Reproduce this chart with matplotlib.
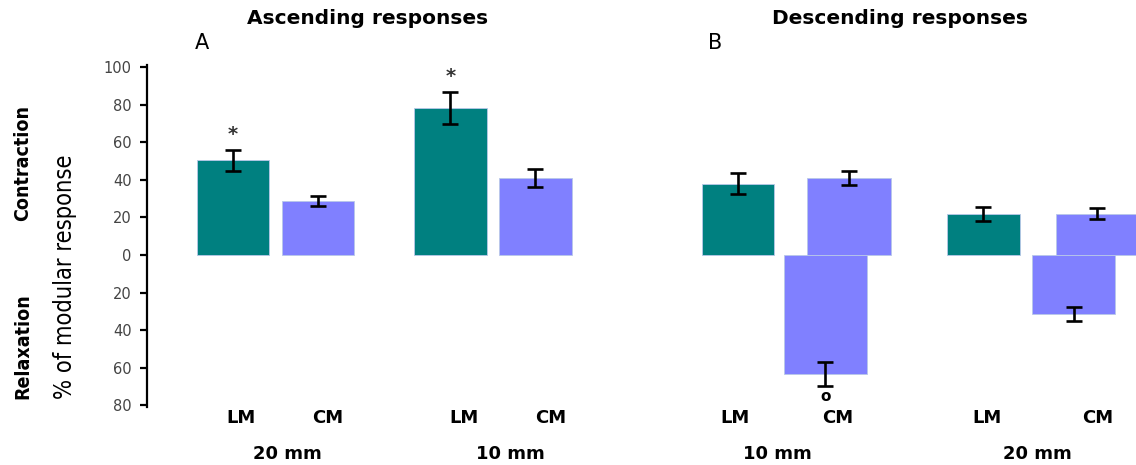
import matplotlib

matplotlib.use("Agg")
import matplotlib.pyplot as plt  # noqa: E402

# ---- data (% of modular response) ----
groups = ["20 mm", "10 mm", "10 mm", "20 mm"]
muscles = ["LM", "CM"]

asc_lm = [50.5, 78.2]          # A: ascending, LM (20 mm, 10 mm)
asc_lm_err = [5.6, 8.5]
asc_cm = [28.7, 41.0]          # A: ascending, CM
asc_cm_err = [2.7, 5.0]

desc_lm = [37.8, 21.8]         # B: descending, LM (10 mm, 20 mm)
desc_lm_err = [5.6, 3.7]
desc_cm_con = [41.0, 22.0]     # B: descending, CM contraction
desc_cm_con_err = [3.7, 3.0]
desc_cm_rel = [-63.5, -31.4]   # B: descending, CM relaxation
desc_cm_rel_err = [6.4, 3.5]

yticks = [-80, -60, -40, -20, 0, 20, 40, 60, 80, 100]
ytick_labels = ["80", "60", "40", "20", "0", "20", "40", "60", "80", "100"]

TEAL = "#008080"
BLUE = "#8080FF"

# ---- layout (x in bar-spacing units) ----
asc_lm_x = [1.01, 3.57]
asc_cm_x = [2.01, 4.57]
desc_lm_x = [6.95, 9.84]
desc_cm_rel_x = [7.98, 10.90]
desc_cm_con_x = [8.26, 11.18]
w_narrow = 0.85
w_wide = 0.98

fig = plt.figure(figsize=(11.36, 4.65), dpi=100)
ax = fig.add_axes([147 / 1136, 0.124, 1 - 147 / 1136, 0.736])
ax.set_xlim(0, (1136 - 147) / 85)
ax.set_ylim(-81, 101)

err_kw = dict(ecolor="black", elinewidth=1.9, capsize=5.8, capthick=1.9)


def bars(x, h, e, color, width):
    ax.bar(x, h, width=width, color=color, edgecolor="#b8c8e8", linewidth=0.6,
           yerr=e, error_kw=err_kw, zorder=2)


bars(asc_lm_x, asc_lm, asc_lm_err, TEAL, w_narrow)
bars(asc_cm_x, asc_cm, asc_cm_err, BLUE, w_narrow)
bars(desc_lm_x, desc_lm, desc_lm_err, TEAL, w_narrow)
bars(desc_cm_rel_x, desc_cm_rel, desc_cm_rel_err, BLUE, w_wide)
bars(desc_cm_con_x, desc_cm_con, desc_cm_con_err, BLUE, w_wide)

# significance marks
for x, v, e in zip(asc_lm_x, asc_lm, asc_lm_err):
    ax.text(x, v + e + 8, "*", ha="center", va="center", fontsize=14,
            fontweight="bold", color="#333333")
ax.text(desc_cm_rel_x[0], desc_cm_rel[0] - desc_cm_rel_err[0] - 5.5, "o",
        ha="center", va="center", fontsize=11, fontweight="bold")

# axes styling
for s in ["top", "right", "bottom"]:
    ax.spines[s].set_visible(False)
ax.spines["left"].set_linewidth(1.6)
ax.set_xticks([])
ax.set_yticks(yticks)
ax.set_yticklabels(ytick_labels, family="DejaVu Sans", fontsize=10.5, color="#444444")
ax.tick_params(axis="y", length=5, width=1.6, direction="out", pad=6)

# muscle labels and distance labels under the bars
lab_kw = dict(ha="center", va="center", fontsize=13, fontweight="bold",
              family="DejaVu Sans", clip_on=False)
lm_label_x = [1.10, 3.73, 6.92, 9.88]
cm_label_x = [2.12, 4.75, 8.12, 11.18]
group_x = [1.65, 4.27, 7.42, 10.47]
for x in lm_label_x:
    ax.text(x, -86.7, muscles[0], **lab_kw)
for x in cm_label_x:
    ax.text(x, -86.7, muscles[1], **lab_kw)
for x, g in zip(group_x, groups):
    ax.text(x, -106, g, **lab_kw)

# panel titles
ax.text(2.6, 126, "Ascending responses", ha="center", va="center", fontsize=14.5,
        fontweight="bold", family="DejaVu Sans", clip_on=False)
ax.text(8.86, 126, "Descending responses", ha="center", va="center", fontsize=14.5,
        fontweight="bold", family="DejaVu Sans", clip_on=False)
ax.text(0.56, 113, "A", ha="left", va="center", fontsize=15, family="DejaVu Sans", clip_on=False)
ax.text(6.6, 113, "B", ha="left", va="center", fontsize=15, family="DejaVu Sans", clip_on=False)

# y-axis labels (condensed face)
fig.text(65 / 1136, 1 - 277 / 465, "% of modular response", rotation=90, ha="center",
         va="center", fontsize=17, family="DejaVu Sans", fontstretch="condensed")
fig.text(23 / 1136, 1 - 163 / 465, "Contraction", rotation=90, ha="center",
         va="center", fontsize=14, fontweight="bold", family="DejaVu Sans", fontstretch="condensed")
fig.text(23 / 1136, 1 - 346 / 465, "Relaxation", rotation=90, ha="center",
         va="center", fontsize=14, fontweight="bold", family="DejaVu Sans", fontstretch="condensed")

fig.savefig("out.png", dpi=100)
